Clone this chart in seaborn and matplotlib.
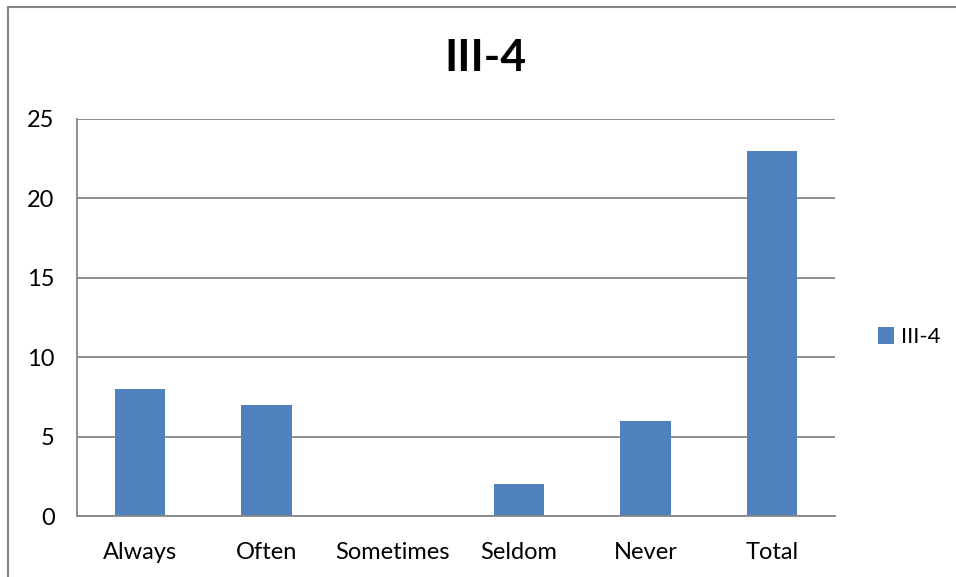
import matplotlib
matplotlib.use("Agg")
import matplotlib.pyplot as plt
from matplotlib.lines import Line2D
import seaborn as sns

categories = ["Always", "Often", "Sometimes", "Seldom", "Never", "Total"]
values = [8, 7, 0, 2, 6, 23]
series_name = "III-4"
y_ticks = [0, 5, 10, 15, 20, 25]

sns.set_style("white")
plt.rcParams["font.family"] = ["Lato", "DejaVu Sans"]
plt.rcParams["text.color"] = "black"
plt.rcParams["xtick.labelcolor"] = "black"
plt.rcParams["ytick.labelcolor"] = "black"

grey = "#868686"
bar_color = "#4F81BD"

fig = plt.figure(figsize=(9.56, 5.77), dpi=100)
ax = fig.add_axes([0.0805, 0.1057, 0.7929, 0.6881])

sns.barplot(x=categories, y=values, color=bar_color, width=0.4,
            saturation=1, label=series_name, linewidth=0, ax=ax)

ax.set_xlim(-0.5, len(categories) - 0.5)
ax.set_ylim(0, 25)
ax.set_yticks(y_ticks)
ax.set_yticklabels([str(t) for t in y_ticks], fontsize=17)
ax.set_xticks(range(len(categories)))
ax.set_xticklabels(categories, fontsize=17)
ax.set_xticks([i - 0.5 for i in range(len(categories) + 1)], minor=True)
ax.tick_params(axis="x", which="major", length=0, pad=19)
ax.tick_params(axis="x", which="minor", length=7, width=1.3, color=grey, direction="out")
ax.tick_params(axis="y", length=8, width=1.3, color=grey, direction="out", pad=8)
ax.set_xlabel("")
ax.set_ylabel("")

ax.yaxis.grid(True, color=grey, linewidth=1.3)
ax.set_axisbelow(True)
for s in ["top", "right"]:
    ax.spines[s].set_visible(False)
for s in ["left", "bottom"]:
    ax.spines[s].set_color(grey)
    ax.spines[s].set_linewidth(1.3)

fig.text(485 / 956, 1 - 58 / 577, series_name, fontsize=32, fontweight="bold",
         ha="center", va="center")

ax.legend(loc="center left", bbox_to_anchor=(1.03, 0.45), frameon=False,
          fontsize=16, handlelength=0.75, handleheight=0.75, handletextpad=0.3)

# chart border (left and top edges visible)
fig.add_artist(Line2D([8 / 956, 8 / 956], [0, 1 - 7 / 577], transform=fig.transFigure,
                      color=grey, linewidth=1.5))
fig.add_artist(Line2D([8 / 956, 1], [1 - 7 / 577, 1 - 7 / 577], transform=fig.transFigure,
                      color=grey, linewidth=1.5))

fig.savefig("out.png", dpi=100)
